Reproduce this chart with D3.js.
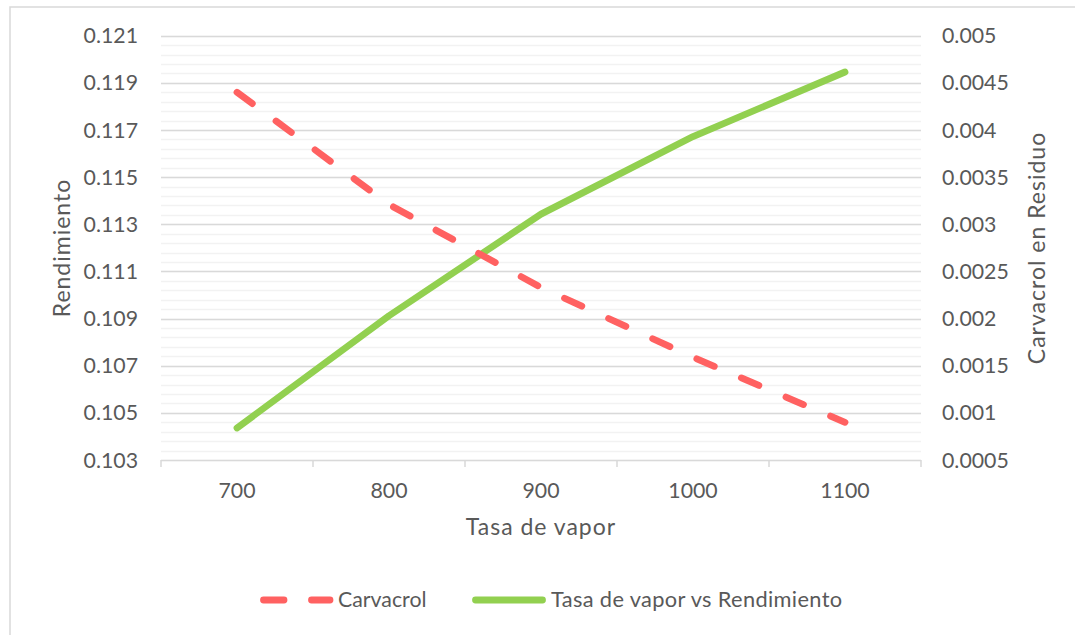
<!DOCTYPE html>
<html><head><meta charset="utf-8">
<script src="https://cdn.jsdelivr.net/npm/d3@7"></script>
<style>
html,body{margin:0;padding:0;background:#fff;}
svg text{font-family:Lato,sans-serif;fill:#595959;}
</style></head>
<body><svg id="c" width="1075" height="635"></svg>
<script>
const categories = ["700","800","900","1000","1100"];
const rendimiento = [0.10436, 0.10912, 0.11343, 0.11672, 0.11946];
const carvacrol = [0.00440, 0.00321, 0.00233, 0.00159, 0.00090];
const leftTicks = [0.103,0.105,0.107,0.109,0.111,0.113,0.115,0.117,0.119,0.121];
const rightTicks = [0.0005,0.001,0.0015,0.002,0.0025,0.003,0.0035,0.004,0.0045,0.005];
const seriesNames = ["Carvacrol","Tasa de vapor vs Rendimiento"];
const axisTitles = {x:"Tasa de vapor", yl:"Rendimiento", yr:"Carvacrol en Residuo"};

const FS = 21.3, TS = 23;
const svg = d3.select("#c");
const L=161, R=921, T=35.7, B=460;
svg.append("rect").attr("x",10).attr("y",7).attr("width",1080).attr("height",640)
  .attr("fill","#fff").attr("stroke","#d9d9d9").attr("stroke-width",1.5);

const x = d3.scaleBand().domain(categories).range([L,R]);
const yL = d3.scaleLinear().domain([0.103,0.121]).range([B,T]);
const yR = d3.scaleLinear().domain([0.0005,0.005]).range([B,T]);

// minor gridlines
const minor = d3.range(0,46).map(i=>0.103+i*0.0004).filter(v=>v<0.1211);
svg.append("g").selectAll("line").data(minor).join("line")
  .attr("x1",L).attr("x2",R).attr("y1",d=>Math.round(yL(d))+0.5).attr("y2",d=>Math.round(yL(d))+0.5)
  .attr("stroke","#f2f2f2").attr("stroke-width",1.5);
// major gridlines
svg.append("g").selectAll("line").data(leftTicks.slice(1)).join("line")
  .attr("x1",L).attr("x2",R).attr("y1",d=>Math.round(yL(d))+0.5).attr("y2",d=>Math.round(yL(d))+0.5)
  .attr("stroke","#d9d9d9").attr("stroke-width",1.5);

// x axis
const xa = svg.append("g").attr("transform",`translate(0,${B})`);
xa.append("line").attr("x1",L).attr("x2",R).attr("y1",0.5).attr("y2",0.5).attr("stroke","#d9d9d9").attr("stroke-width",1.5);
const tickPos = categories.map(c=>x(c)).concat([R]);
xa.selectAll("line.t").data(tickPos).join("line").attr("class","t")
  .attr("x1",d=>d).attr("x2",d=>d).attr("y1",0).attr("y2",7).attr("stroke","#d9d9d9").attr("stroke-width",1.5);
xa.selectAll("text").data(categories).join("text")
  .attr("x",d=>x(d)+x.bandwidth()/2).attr("y",38.3).attr("text-anchor","middle").attr("font-size",FS).text(d=>d);

// left axis labels
svg.append("g").selectAll("text").data(leftTicks).join("text")
  .attr("x",138).attr("y",d=>yL(d)+7.6).attr("text-anchor","end").attr("font-size",FS)
  .text(d=>d3.format(".3f")(d));
// right axis labels
svg.append("g").selectAll("text").data(rightTicks).join("text")
  .attr("x",942).attr("y",d=>yR(d)+7.6).attr("text-anchor","start").attr("font-size",FS)
  .text(d=>String(+d.toFixed(4)));

// axis titles
svg.append("text").attr("transform","translate(70,248) rotate(-90)").attr("text-anchor","middle")
  .attr("font-size",TS).attr("letter-spacing",1).text(axisTitles.yl);
svg.append("text").attr("transform","translate(1045,248) rotate(-90)").attr("text-anchor","middle")
  .attr("font-size",TS).attr("letter-spacing",1).text(axisTitles.yr);
svg.append("text").attr("x",541).attr("y",535).attr("text-anchor","middle")
  .attr("font-size",TS).attr("letter-spacing",1).text(axisTitles.x);

const cx = d=>x(d)+x.bandwidth()/2;
// green line
svg.append("path").datum(rendimiento.map((v,i)=>[cx(categories[i]),yL(v)]))
  .attr("d",d3.line()).attr("fill","none").attr("stroke","#92d050").attr("stroke-width",6.8)
  .attr("stroke-linecap","round").attr("stroke-linejoin","round");
// red dashed
svg.append("path").datum(carvacrol.map((v,i)=>[cx(categories[i]),yR(v)]))
  .attr("d",d3.line()).attr("fill","none").attr("stroke","#ff6161").attr("stroke-width",6.8)
  .attr("stroke-linecap","round").attr("stroke-linejoin","round").attr("stroke-dasharray","19,29.5");

// legend
const lg = svg.append("g");
lg.append("line").attr("x1",263.5).attr("x2",330).attr("y1",600).attr("y2",600)
  .attr("stroke","#ff6161").attr("stroke-width",6.8).attr("stroke-linecap","round").attr("stroke-dasharray","20.5,27.5");
lg.append("text").attr("x",338).attr("y",607.3).attr("font-size",FS).text(seriesNames[0]);
lg.append("line").attr("x1",475.5).attr("x2",542.5).attr("y1",600).attr("y2",600)
  .attr("stroke","#92d050").attr("stroke-width",6.8).attr("stroke-linecap","round");
lg.append("text").attr("x",551).attr("y",607.3).attr("font-size",21.8).attr("letter-spacing",0.35).text(seriesNames[1]);
</script></body></html>
